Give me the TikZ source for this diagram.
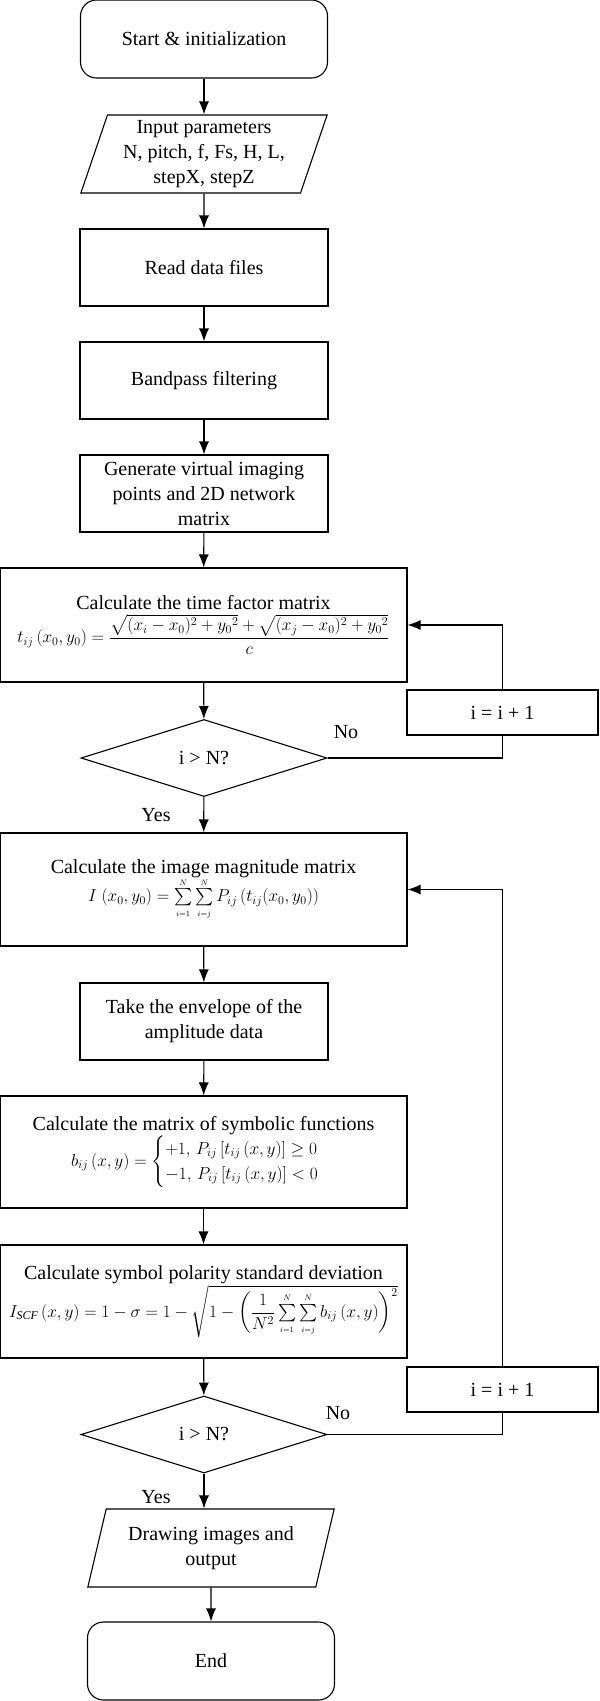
\documentclass[tikz,border=0pt]{standalone}
\usepackage{amsmath}
\usepackage{fontspec}
\setmainfont{Liberation Serif}
\usetikzlibrary{shapes.geometric,arrows.meta}

\newcommand{\dsum}[2]{\sum\limits_{\scriptscriptstyle #1}^{\scriptscriptstyle #2}}
\newcommand{\fml}[1]{{\fontsize{17}{21}\selectfont $#1$}}

\tikzset{
  every node/.style={font=\fontsize{20}{25}\selectfont, align=center},
  box/.style={draw, rectangle, minimum width=248pt, minimum height=77pt, inner sep=2pt},
  widebox/.style={draw, rectangle, minimum width=407pt, minimum height=113pt, inner sep=2pt},
  term/.style={draw, rectangle, rounded corners=16pt, minimum width=247pt, minimum height=78pt},
  iobox/.style={draw, trapezium, trapezium left angle=72, trapezium right angle=108,
    trapezium stretches=true, minimum width=247pt, minimum height=78pt, inner sep=1pt},
  decide/.style={draw, diamond, minimum width=246pt, minimum height=77pt, inner sep=0pt},
  incbox/.style={draw, rectangle, minimum width=191pt, minimum height=45pt},
  flow/.style={-{Latex[length=13pt,width=10pt]}},
}

\begin{document}
\begin{tikzpicture}[x=1pt, y=-1pt, line width=1.1pt]
\useasboundingbox (0,0) rectangle (600,1701);

\node[term] (start) at (204,39) {Start \& initialization};
\node[iobox] (inp) at (204,154) {Input parameters\\N, pitch, f, Fs, H, L,\\stepX, stepZ};
\node[box] (read) at (204,267.5) {Read data files};
\node[box] (band) at (204,380.5) {Bandpass filtering};
\node[box] (gen) at (204,493.5) {Generate virtual imaging\\points and 2D network\\matrix};
\node[widebox, minimum height=114pt] (time) at (203.5,625)
  {Calculate the time factor matrix\\[4pt]
   \fml{t_{ij}\,(x_0,y_0) = \dfrac{\sqrt{(x_i-x_0)^2+{y_0}^2}+\sqrt{(x_j-x_0)^2+{y_0}^2}}{c}}};
\node[decide] (dec1) at (204,758) {i > N?};
\node[incbox] (inc1) at (502.5,712.5) {i = i + 1};
\node[widebox] (mag) at (203.5,889.5)
  {Calculate the image magnitude matrix\\
   \fml{I\;(x_0,y_0) = \dsum{i=1}{N}\dsum{i=j}{N} P_{ij}\,(t_{ij}(x_0,y_0))}};
\node[box] (env) at (204,1021.5) {Take the envelope of the\\amplitude data};
\node[widebox, minimum height=112pt] (sym) at (203.5,1152)
  {Calculate the matrix of symbolic functions\\
   \fml{b_{ij}\,(x,y) = \begin{cases} +1,\, P_{ij}\,[t_{ij}\,(x,y)] \geq 0\\ -1,\, P_{ij}\,[t_{ij}\,(x,y)] < 0\end{cases}}};
\node[widebox] (scf) at (203.5,1301.5)
  {Calculate symbol polarity standard deviation\\
   \fml{I_{\mathit{SCF}}\,(x,y) = 1-\sigma = 1-\sqrt{1-\left(\dfrac{1}{N^2}\dsum{i=1}{N}\dsum{i=j}{N} b_{ij}\,(x,y)\right)^{2}}}};
\node[decide] (dec2) at (204,1434.5) {i > N?};
\node[incbox] (inc2) at (502.5,1389.5) {i = i + 1};
\node[iobox] (outp) at (211,1548) {Drawing images and\\output};
\node[term] (finish) at (211,1661) {End};

% labels on the branches
\node (no1) at (346,732) {No};
\node (yes1) at (156,815) {Yes};
\node (no2) at (338,1413) {No};
\node (yes2) at (156,1497) {Yes};

% main chain
\foreach \a/\b in {start/inp, inp/read, read/band, band/gen, gen/time, time/dec1,
  dec1/mag, mag/env, env/sym, sym/scf, scf/dec2, outp/finish}
{
    \draw[flow] (\a) -- (\b);
}
\draw[flow] (dec2.south) -- (dec2.south |- outp.north);

% loops back
\foreach \d/\i/\t in {dec1/inc1/time, dec2/inc2/mag}
{
    \draw (\d.east) -| (\i.south);
    \draw[flow] (\i.north) |- (\t.east);
}

\end{tikzpicture}
\end{document}
